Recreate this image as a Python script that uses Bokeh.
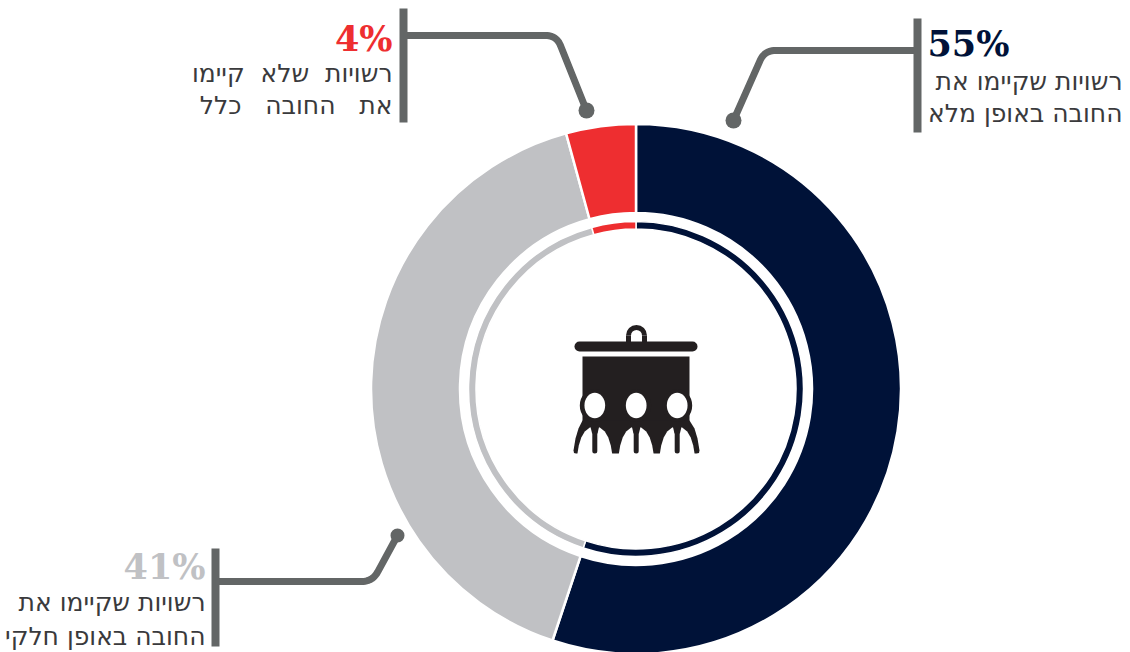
import math
from bokeh.plotting import figure
from bokeh.models import Range1d
from bokeh.core.properties import value
from bokeh.embed import file_html
from bokeh.resources import INLINE

W, H = 1130, 652
shares = [55.1, 40.65, 4.25]
colors = ["#001238", "#c0c1c4", "#ee2e30"]
pct_labels = ["55%", "41%", "4%"]
line1 = ["רשויות שקיימו את", "רשויות שקיימו את", "רשויות\u00a0\u00a0שלא\u00a0\u00a0קיימו"]
line2 = ["החובה באופן מלא", "החובה באופן חלקי", "את\u00a0\u00a0\u00a0החובה\u00a0\u00a0\u00a0כלל"]

GREY = "#636666"
INK = "#231f20"
CX, CY = 635.5, 388.5

def Y(y):
    return H - y

p = figure(width=W, height=H, x_range=Range1d(0, W), y_range=Range1d(0, H),
           output_backend="svg", toolbar_location=None, min_border=0,
           x_axis_location=None, y_axis_location=None)
p.grid.visible = False
p.outline_line_color = None
p.background_fill_color = "white"

ang = math.pi / 2
for s, c in zip(shares, colors):
    nxt = ang - s / sum(shares) * 2 * math.pi
    p.annular_wedge(CX, Y(CY), inner_radius=176, outer_radius=265, start_angle=ang, end_angle=nxt,
                    direction="clock", fill_color=c, line_color="white", line_width=2.5)
    p.annular_wedge(CX, Y(CY), inner_radius=160, outer_radius=167.5, start_angle=ang, end_angle=nxt,
                    direction="clock", fill_color=c, line_color="white", line_width=1.5)
    ang = nxt

def leader(bar_x, bar_top, bar_bot, y, cx, dot_x, dot_y, r):
    p.line([bar_x, bar_x], [Y(bar_top), Y(bar_bot)], line_color=GREY, line_width=8)
    d = 1 if cx > bar_x else -1
    L = math.hypot(dot_x - cx, dot_y - y)
    ux, uy = (dot_x - cx) / L, (dot_y - y) / L
    a = (cx - d * 11, y)
    b = (cx + ux * 11, y + uy * 11)
    xs, ys = [bar_x], [y]
    for i in range(13):
        t = i / 12
        xs.append((1 - t) ** 2 * a[0] + 2 * t * (1 - t) * cx + t ** 2 * b[0])
        ys.append((1 - t) ** 2 * a[1] + 2 * t * (1 - t) * y + t ** 2 * b[1])
    xs.append(dot_x)
    ys.append(dot_y)
    p.line(xs, [Y(v) for v in ys], line_color=GREY, line_width=7, line_join="round")
    p.circle([dot_x], [Y(dot_y)], radius=r, fill_color=GREY, line_color=None)

leader(917, 18, 132, 50, 764, 733, 120, 8)
leader(403, 8, 122, 35, 556, 586, 110, 8)
leader(215, 548, 646, 581, 372, 397, 535, 7)

def block(i, x, align, y0, y1, y2, xp=None):
    p.text([x if xp is None else xp], [Y(y0)], text=[pct_labels[i]], text_color=colors[i],
           text_align="left" if xp is not None else align,
           text_baseline="bottom", text_font=value("DejaVu Serif"), text_font_style="bold",
           text_font_size="35px")
    for t, y in ((line1[i], y1), (line2[i], y2)):
        p.text([x], [Y(y)], text=[t], text_color="#3a3a3c", text_align=align,
               text_baseline="bottom", text_font=value("DejaVu Sans"), text_font_size="25px")

block(0, 1122, "right", 63, 95, 127, xp=927)
block(2, 392, "right", 58, 87, 119)
block(1, 205, "right", 586, 616, 650)

# icon
p.line([579, 692], [Y(346), Y(346)], line_color=INK, line_width=10, line_cap="round")
p.annular_wedge(636, Y(335), inner_radius=5.5, outer_radius=10.5, start_angle=0, end_angle=math.pi,
                fill_color=INK, line_color=None)
p.line([628, 628], [Y(335), Y(342)], line_color=INK, line_width=5)
p.line([644, 644], [Y(335), Y(342)], line_color=INK, line_width=5)
p.quad(left=582, right=689, top=Y(356), bottom=Y(425), fill_color=INK, line_color=None)

heads = [594.3, 635.7, 676.7]
sil_x = [582, 578, 575, 573, 573.5, 575.5, 696, 698.5, 699, 697, 694, 689]
sil_y = [420, 428, 438, 450, 452.5, 453, 453, 452.5, 450, 438, 428, 420]
p.patch(sil_x, [Y(v) for v in sil_y], fill_color=INK, line_color=None)
for c in heads:
    p.ellipse([c], [Y(405)], width=30, height=33, fill_color=INK, line_color=None)
    p.ellipse([c], [Y(405)], width=20.7, height=25.5, fill_color="white", line_color=None)
    ax = [-17.5, -16, -13.5, -10, -5, 0, 5, 10, 13.5, 16, 17.5]
    ay = [454, 445, 437, 431, 427, 426, 427, 431, 437, 445, 454]
    p.patch([c + v for v in ax], [Y(v) for v in ay], fill_color="white", line_color=None)
    p.patch([c - 4.5, c + 4.5, c + 2.7, c - 2.7], [Y(425.5), Y(425.5), Y(433), Y(433)], fill_color=INK, line_color=None)
    p.line([c, c], [Y(432), Y(450.5)], line_color=INK, line_width=5, line_cap="round")

open("out.html", "w").write(file_html(p, INLINE))
